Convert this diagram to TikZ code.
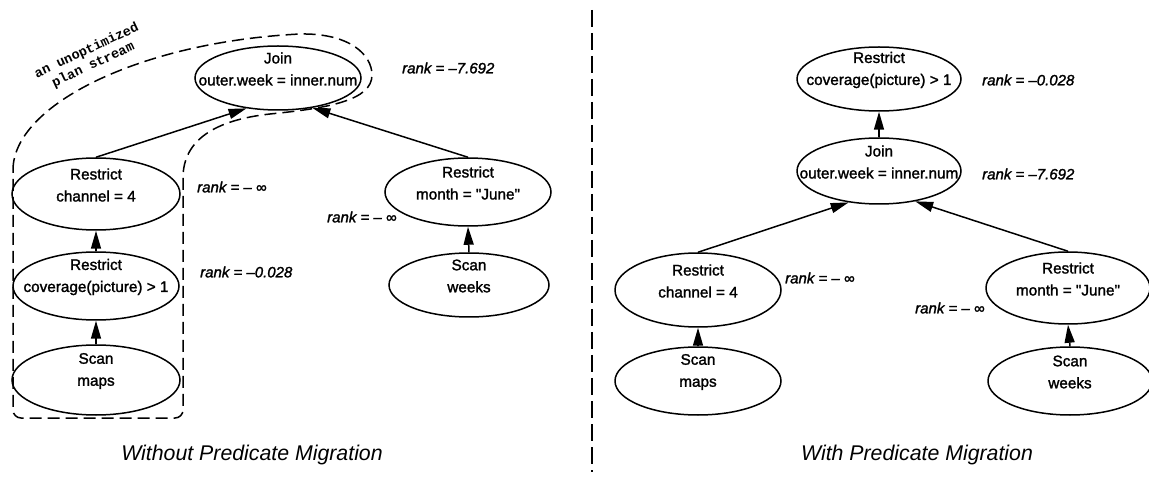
\documentclass[tikz,border=0pt]{standalone}
\usepackage{fontspec}
\setmainfont{Liberation Sans}
\newfontfamily\heavy{Liberation Sans}[FakeBold=1.6]
\newfontfamily\monofam{Liberation Mono}
\usetikzlibrary{arrows.meta,shapes.geometric}
\begin{document}
\begin{tikzpicture}[x=1pt,y=-1pt,
  el/.style={draw, ellipse, line width=1.5pt, inner sep=0pt},
  nodetext/.style={align=center, font=\heavy\fontsize{15.3}{22}\selectfont, inner sep=0pt},
  ranklbl/.style={anchor=west, font=\heavy\fontsize{15}{17}\selectfont\itshape, inner sep=0pt},
  captext/.style={font=\fontsize{21.3}{25}\selectfont\itshape, inner sep=0pt, anchor=base},
  conn/.style={line width=1.5pt, -{Triangle[length=18pt,width=10pt]}},
  streamline/.style={line width=1.5pt, dash pattern=on 12pt off 6pt},
  sepline/.style={line width=2pt, dash pattern=on 17pt off 6pt}]
\useasboundingbox (0,0) rectangle (1149,478);

% ---------- left panel ----------
\node[el, minimum width=166pt, minimum height=64pt] (lj) at (278,78) {};
\node[nodetext] (ljt) at ([yshift=9pt]lj.center) {Join\\outer.week = inner.num};
\node[el, minimum width=168pt, minimum height=72pt] (lc) at (96,194) {};
\node[nodetext] (lct) at ([yshift=9pt]lc.center) {Restrict\\channel = 4};
\node[el, minimum width=166pt, minimum height=68pt] (lp) at (96,286) {};
\node[nodetext] (lpt) at ([yshift=9pt]lp.center) {Restrict\\coverage(picture) > 1};
\node[el, minimum width=168pt, minimum height=70pt] (ls) at (96,380) {};
\node[nodetext] (lst) at ([yshift=9pt]ls.center) {Scan\\maps};
\node[el, minimum width=166pt, minimum height=68pt] (lm) at (468,192) {};
\node[nodetext] (lmt) at ([yshift=9pt]lm.center) {Restrict\\month = \textquotedbl June\textquotedbl};
\node[el, minimum width=160pt, minimum height=64pt] (lw) at (469,285) {};
\node[nodetext] (lwt) at ([yshift=9pt]lw.center) {Scan\\weeks};

\draw[conn] (lc.north) -- (lj.224);
\draw[conn] (lm.north) -- (lj.319);
\draw[conn] (lp.north) -- (lc.south);
\draw[conn] (ls.north) -- (lp.south);
\draw[conn] (lw.north) -- (lm.south);

\node[ranklbl] (lr1) at (402,68) {rank = –7.692};
\node[ranklbl] (lr2) at (197,187) {rank = – ∞};
\node[ranklbl] (lr3) at (200,272) {rank = –0.028};
\node[ranklbl] (lr4) at (327,217) {rank = – ∞};

% plan stream outline
\draw[streamline] (13,170) .. controls (13,105) and (140,42) .. (300,34)
  .. controls (350,33) and (372,55) .. (372,75)
  .. controls (372,100) and (330,108) .. (270,114)
  .. controls (215,120) and (183,140) .. (183,178)
  [rounded corners=8pt] -- (183,418) -- (13,418) [sharp corners] -- cycle;
\node[rotate=25, align=center, inner sep=0pt,
  font=\fontsize{13.5}{15.5}\selectfont\monofam\bfseries] (stream) at (90,58)
  {an unoptimized\\plan stream};

\node[captext] (lcap) at (252,460) {Without Predicate Migration};

% separator
\coordinate (s1) at (592,10);
\coordinate (s2) at (592,472);
\draw[sepline] (s1) -- (s2);

% ---------- right panel ----------
\node[el, minimum width=164pt, minimum height=64pt] (rp) at (879,79) {};
\node[nodetext] (rpt) at ([yshift=9pt]rp.center) {Restrict\\coverage(picture) > 1};
\node[el, minimum width=164pt, minimum height=66pt] (rj) at (879,171) {};
\node[nodetext] (rjt) at ([yshift=9pt]rj.center) {Join\\outer.week = inner.num};
\node[el, minimum width=166pt, minimum height=74pt] (rc) at (698,290) {};
\node[nodetext] (rct) at ([yshift=9pt]rc.center) {Restrict\\channel = 4};
\node[el, minimum width=166pt, minimum height=68pt] (rs) at (698,381) {};
\node[nodetext] (rst) at ([yshift=9pt]rs.center) {Scan\\maps};
\node[el, minimum width=164pt, minimum height=72pt] (rm) at (1068,288) {};
\node[nodetext] (rmt) at ([yshift=9pt]rm.center) {Restrict\\month = \textquotedbl June\textquotedbl};
\node[el, minimum width=164pt, minimum height=68pt] (rw) at (1070,381) {};
\node[nodetext] (rwt) at ([yshift=9pt]rw.center) {Scan\\weeks};

\draw[conn] (rj.north) -- (rp.south);
\draw[conn] (rc.north) -- (rj.226);
\draw[conn] (rm.north) -- (rj.320);
\draw[conn] (rs.north) -- (rc.south);
\draw[conn] (rw.north) -- (rm.south);

\node[ranklbl] (rr1) at (982,80) {rank = –0.028};
\node[ranklbl] (rr2) at (982,174) {rank = –7.692};
\node[ranklbl] (rr3) at (785,278) {rank = – ∞};
\node[ranklbl] (rr4) at (915,308) {rank = – ∞};

\node[captext] (rcap) at (917,460) {With Predicate Migration};
\end{tikzpicture}
\end{document}
